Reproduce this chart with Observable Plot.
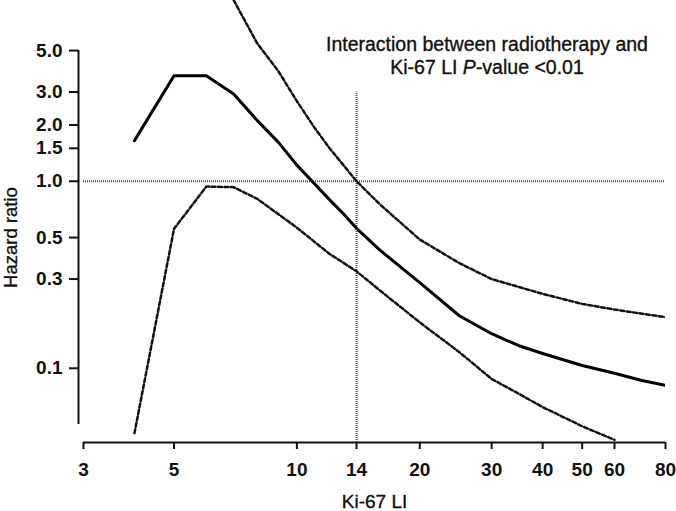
<!DOCTYPE html>
<html><head><meta charset="utf-8">
<script src="https://cdn.jsdelivr.net/npm/d3@7"></script>
<script src="https://cdn.jsdelivr.net/npm/@observablehq/plot@0.6"></script>
<style>
body{margin:0;background:#fff;}
#wrap{position:relative;width:676px;height:511px;}
#title{position:absolute;left:287px;top:33px;width:400px;text-align:center;font-family:"Liberation Sans",Arial,sans-serif;font-size:19.5px;line-height:23px;color:#111;-webkit-text-stroke:0.35px #111;}
</style></head><body>
<div id="wrap"><div id="chart"></div><div id="title"></div></div>
<script>
// Data
const kiEstimate = [4,5,6,7,8,9,10,11,12,13,14,16,20,25,30,35,40,50,60,70,80];
const hrEstimate = [1.65,3.67,3.67,2.93,2.11,1.62,1.22,0.98,0.80,0.67,0.56,0.427,0.287,0.191,0.153,0.132,0.120,0.1035,0.094,0.086,0.081];

const kiUpper = [7,8,9,10,11,12,13,14,16,20,25,30,40,50,60,80];
const hrUpper = [9.3,5.45,3.89,2.68,1.96,1.51,1.22,1.0,0.75,0.488,0.365,0.30,0.25,0.221,0.206,0.1875];

const kiLower = [4,5,6,7,8,10,12,14,16,20,25,30,35,40,50,60];
const hrLower = [0.045,0.557,0.937,0.93,0.805,0.565,0.41,0.33,0.26,0.176,0.122,0.0877,0.073,0.062,0.049,0.0414];

const xTicks = [3,5,10,14,20,30,40,50,60,80];
const yTicks = [0.1,0.3,0.5,1.0,1.5,2.0,3.0,5.0];
const refHR = [1];
const refKi = [14];
const refKiTop = 3;

const xDomain = [2.917, 80];
const yDomain = [0.0401, 9.26];
const yAxisExtent = [0.05, 5];

const titleLine1 = "Interaction between radiotherapy and";
const titleLine2a = "Ki-67 LI ";
const titleItalic = "P";
const titleLine2b = "-value <0.01";
const xLabel = "Ki-67 LI";
const yLabel = "Hazard ratio";

const toRows = (xs, ys) => xs.map((x, i) => ({x, y: ys[i]}));
const est = toRows(kiEstimate, hrEstimate);
const up = toRows(kiUpper, hrUpper);
const lo = toRows(kiLower, hrLower);

const font = '"Liberation Sans", Arial, sans-serif';
const fmtY = d3.format(".1f");
const blank = () => "";

const chart = Plot.plot({
  width: 676, height: 511,
  marginLeft: 78, marginRight: 11, marginTop: 0, marginBottom: 69,
  style: {fontFamily: font, background: "white", color: "#111", overflow: "visible"},
  x: {type: "log", domain: xDomain},
  y: {type: "log", domain: yDomain},
  marks: [
    Plot.axisY({ticks: yTicks, tickFormat: blank, tickSize: 9, label: null, strokeWidth: 2}),
    Plot.axisX({ticks: xTicks, tickFormat: blank, tickSize: 7, label: null, strokeWidth: 2}),
    Plot.text(yTicks, {y: d => d, text: d => fmtY(d), frameAnchor: "left", textAnchor: "end", dx: -16, fontSize: 19, fontWeight: "bold", fill: "#111"}),
    Plot.text(xTicks, {x: d => d, text: d => String(d), frameAnchor: "bottom", lineAnchor: "top", dy: 20, fontSize: 19, fontWeight: "bold", fill: "#111"}),
    Plot.ruleX([xDomain[0]], {y1: yAxisExtent[0], y2: yAxisExtent[1], strokeWidth: 2, stroke: "#111"}),
    Plot.ruleY([yDomain[0]], {x1: xTicks[0], x2: xTicks[xTicks.length - 1], strokeWidth: 2, stroke: "#111"}),
    Plot.ruleY(refHR, {x1: xTicks[0], x2: xTicks[xTicks.length - 1], stroke: "#555", strokeWidth: 2, strokeDasharray: "1,1"}),
    Plot.ruleX(refKi, {y1: yDomain[0], y2: refKiTop, stroke: "#555", strokeWidth: 2, strokeDasharray: "1,1"}),
    Plot.line(up, {x: "x", y: "y", stroke: "#111", strokeWidth: 2.5, strokeDasharray: "4,2.5", clip: true}),
    Plot.line(lo, {x: "x", y: "y", stroke: "#111", strokeWidth: 2.5, strokeDasharray: "4,2.5", clip: true}),
    Plot.line(est, {x: "x", y: "y", stroke: "#000", strokeWidth: 3, clip: true}),
    Plot.text([yLabel], {text: d => d, frameAnchor: "left", textAnchor: "middle", dx: -62, dy: 16, rotate: -90, lineAnchor: "bottom", fontSize: 18.5, fill: "#111", stroke: "#111", strokeWidth: 0.35}),
    Plot.text([xLabel], {text: d => d, frameAnchor: "bottom", textAnchor: "middle", dx: 2.5, dy: 65, lineAnchor: "bottom", fontSize: 19, fill: "#111", stroke: "#111", strokeWidth: 0.35})
  ]
});
document.getElementById("chart").appendChild(chart);

const t = document.getElementById("title");
t.appendChild(document.createTextNode(titleLine1));
t.appendChild(document.createElement("br"));
t.appendChild(document.createTextNode(titleLine2a));
const it = document.createElement("i");
it.textContent = titleItalic;
t.appendChild(it);
t.appendChild(document.createTextNode(titleLine2b));
</script>
</body></html>
